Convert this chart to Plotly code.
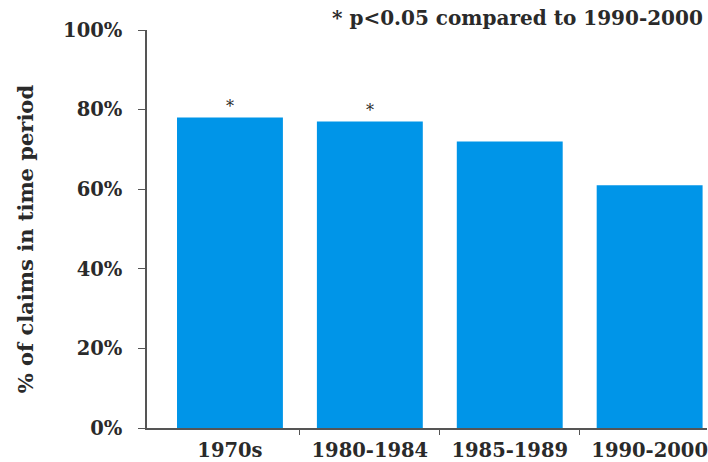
import plotly.graph_objects as go

categories = ["1970s", "1980-1984", "1985-1989", "1990-2000"]
values = [78, 77, 72, 61]
significant = [True, True, False, False]
y_ticks = [0, 20, 40, 60, 80, 100]
note = "* p<0.05 compared to 1990-2000"
y_title = "% of claims in time period"

FONT = "DejaVu Serif"
TXT = "#2a2a2a"
AX = "#555555"
positions = list(range(len(categories)))

fig = go.Figure()
fig.add_trace(go.Bar(
    x=positions, y=values, width=0.757,
    marker=dict(color="#0095e8", line=dict(width=0)),
    hoverinfo="skip",
))

for p, v, s in zip(positions, values, significant):
    if s:
        fig.add_annotation(x=p, y=v, text="*", showarrow=False, yanchor="middle",
                           yshift=11, font=dict(family=FONT, size=16, color=TXT))

fig.add_annotation(x=0.9964, xref="paper", xanchor="right",
                   y=1.03, yref="paper", yanchor="middle",
                   text="<b>" + note + "</b>", showarrow=False,
                   font=dict(family=FONT, size=20, color=TXT))

fig.add_annotation(x=-0.2157, xref="paper", xanchor="center",
                   y=0.475, yref="paper", yanchor="middle",
                   text="<b>" + y_title + "</b>", textangle=-90, showarrow=False,
                   font=dict(family=FONT, size=21, color=TXT))

fig.update_layout(
    width=708, height=462,
    margin=dict(l=147, r=0, t=30, b=28),
    paper_bgcolor="white", plot_bgcolor="white",
    showlegend=False,
    font=dict(family=FONT, color=TXT),
    xaxis=dict(
        range=[-0.593, 3.41],
        tickmode="array", tickvals=positions,
        ticktext=["<b>" + c + "</b>" for c in categories],
        ticks="", showgrid=False, zeroline=False,
        showline=True, linecolor=AX, linewidth=1.5,
        tickfont=dict(family=FONT, size=19.5, color=TXT),
        ticklabelstandoff=4, ticklabeloverflow="allow",
        minor=dict(tickmode="array", tickvals=[0.5, 1.5, 2.5], ticks="outside",
                   ticklen=5, tickcolor=AX, tickwidth=1.2, showgrid=False),
    ),
    yaxis=dict(
        range=[0, 100],
        tickmode="array", tickvals=y_ticks,
        ticktext=["<b>%d%%</b>" % t for t in y_ticks],
        ticks="outside", ticklen=7, tickcolor=AX, tickwidth=1.2,
        showgrid=False, zeroline=False,
        showline=True, linecolor=AX, linewidth=1.5,
        tickfont=dict(family=FONT, size=19.5, color=TXT),
        ticklabelstandoff=12,
    ),
)

fig.write_html("out.html", config={"displayModeBar": False},
               post_script="document.body.style.margin='0';document.body.style.overflow='hidden';")
